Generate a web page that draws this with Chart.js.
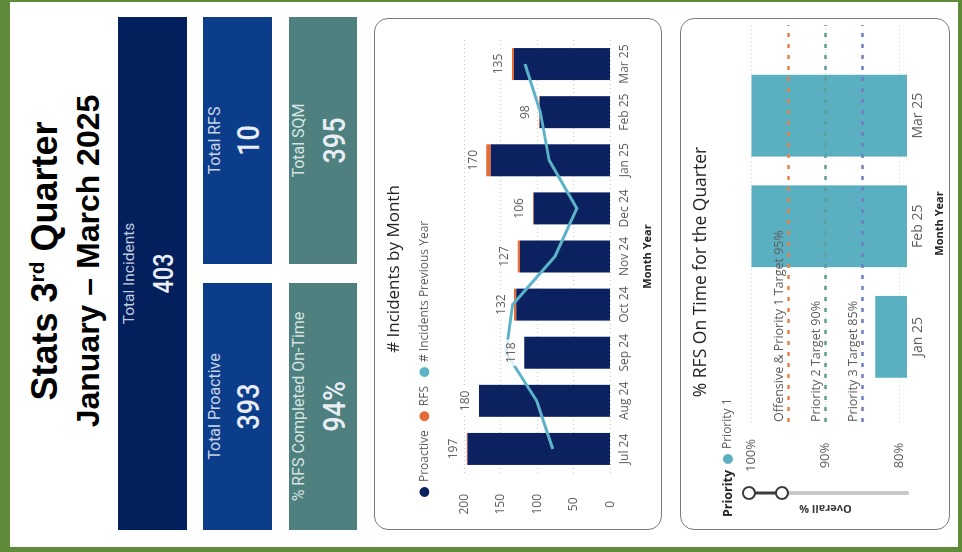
<!DOCTYPE html>
<html><head><meta charset="utf-8">
<script src="https://cdn.jsdelivr.net/npm/chart.js@4.4.1/dist/chart.umd.min.js"></script>
<style>
html,body{margin:0;padding:0;background:#fff;}
body{width:962px;height:552px;overflow:hidden;position:relative;}
#page{position:absolute;left:0;top:0;width:552px;height:962px;transform-origin:0 0;transform:translate(0,552px) rotate(-90deg);background:#fff;}
.frame{position:absolute;left:0;top:0;width:552px;height:962px;box-sizing:border-box;border-style:solid;border-color:#628a3b;border-width:10px 2px 4px 5px;}
.ttl{position:absolute;left:30px;width:522px;text-align:center;font-family:"Liberation Sans",Arial,sans-serif;font-weight:bold;color:#000;line-height:1;transform:translateY(-50%);white-space:nowrap;}
.ttl sup{font-size:58%;vertical-align:0.62em;line-height:0;}
.tile{position:absolute;}
.tile .t{position:absolute;left:0;right:0;text-align:center;line-height:1;white-space:nowrap;font-family:Roboto,"Liberation Sans",sans-serif;}
.tile .lab{transform:translateY(-50%);}
.tile .val{transform:translateY(-50%) scaleX(0.87);font-weight:500;}
.panel{position:absolute;box-sizing:border-box;border:1.5px solid #7a7a7a;border-radius:14px;}
canvas{position:absolute;}
</style></head><body>
<div id="page">
  <div class="frame"></div>
  <div class="ttl" style="top:45px;font-size:36px;">Stats 3<sup>rd</sup> Quarter</div>
  <div class="ttl" style="top:88px;font-size:32px;">January – March 2025</div>
  <div id="cards"></div>
  <div class="panel" style="left:22px;top:374px;width:512px;height:288px;"></div>
  <div class="panel" style="left:22px;top:680px;width:512px;height:270px;"></div>
  <canvas id="c1" width="508" height="284" style="left:24px;top:376px;width:508px;height:284px;"></canvas>
  <canvas id="c2" width="508" height="266" style="left:24px;top:682px;width:508px;height:266px;"></canvas>
</div>
<script>
// ---------- data ----------
const months = ['Jul 24','Aug 24','Sep 24','Oct 24','Nov 24','Dec 24','Jan 25','Feb 25','Mar 25'];
const proactive = [196,180,118,129,124,105,164,97,132];
const rfs = [1,0,0,3,3,1,6,1,3];
const prevYear = [79,101,143,134,76,46,84,96,117];
const countTicks = [0,50,100,150,200];
const quarterMonths = ['Jan 25','Feb 25','Mar 25'];
const onTimePct = [83.3,100,100];
const pctTicks = [80,90,100];
const targetLabels = ['Offensive & Priority 1 Target 95%','Priority 2 Target 90%','Priority 3 Target 85%'];
const targetValues = [95,90,85];
const cardLabels = ['Total Incidents','Total Proactive','Total RFS','% RFS Completed On-Time','Total SQM'];
const cardValues = ['403','393','10','94%','395'];

// ---------- styles ----------
const targetColors = ['#e8834e','#5c9f97','#6f7ec0'];
const cardBoxes = [
  {l:22,t:118,w:513,h:69,bg:'#03205c',lab:'#c3cde0',ly:12,vy:46,ls:15.5,vs:27},
  {l:22,t:203,w:247,h:69,bg:'#0c3d8a',lab:'#c9d4e8',ly:12,vy:45,ls:16,vs:31},
  {l:288,t:203,w:247,h:69,bg:'#0c3d8a',lab:'#c9d4e8',ly:12,vy:45,ls:16,vs:31},
  {l:22,t:289,w:247,h:68,bg:'#4e8080',lab:'#d6e4e2',ly:10,vy:45,ls:16,vs:31},
  {l:288,t:289,w:247,h:68,bg:'#4e8080',lab:'#d6e4e2',ly:10,vy:45,ls:16,vs:31}
];
const cards = document.getElementById('cards');
cardLabels.forEach((lab,i)=>{
  const b = cardBoxes[i];
  const d = document.createElement('div');
  d.className='tile';
  d.style.cssText=`left:${b.l}px;top:${b.t}px;width:${b.w}px;height:${b.h}px;background:${b.bg};`;
  const a = document.createElement('div'); a.className='t lab'; a.textContent=lab;
  a.style.cssText=`top:${b.ly}px;font-size:${b.ls}px;color:${b.lab};`;
  const v = document.createElement('div'); v.className='t val'; v.textContent=cardValues[i];
  v.style.cssText=`top:${b.vy}px;font-size:${b.vs}px;color:#e9eef5;`;
  d.appendChild(a); d.appendChild(v); cards.appendChild(d);
});

const FONT = '"Segoe UI","Open Sans",sans-serif';
Chart.defaults.font.family = FONT;
Chart.defaults.color = '#605e5c';

const shiftPlugin = {
  id:'shift',
  afterLayout(chart,args,o){
    if(o.title && chart.titleBlock){chart.titleBlock.left+=o.title; chart.titleBlock.right+=o.title;}
    if(chart.legend){chart.legend._origLeft = chart.legend.left;
      if(o.legend){chart.legend.left+=o.legend; chart.legend.right+=o.legend;}}
  },
  afterDraw(chart,args,o){
    if(o.legendTitle){
      const lg=chart.legend, ctx=chart.ctx;
      ctx.save(); ctx.font='bold 12.5px '+FONT; ctx.fillStyle='#252423';
      ctx.textBaseline='middle'; ctx.textAlign='left';
      ctx.fillText(o.legendTitle, lg._origLeft+4, lg.top + lg.options.labels.padding + 6);
      ctx.restore();
    }
  }
};

const totalsLabel = {
  id:'totalsLabel',
  afterDatasetsDraw(chart){
    const ctx=chart.ctx, top=chart.getDatasetMeta(1), y=chart.scales.y;
    ctx.save(); ctx.font='12px '+FONT; ctx.textAlign='center'; ctx.textBaseline='middle';
    months.forEach((m,i)=>{
      const total = proactive[i]+rfs[i];
      const px = top.data[i].x, py = y.getPixelForValue(total) - 13;
      const w = ctx.measureText(String(total)).width + 6;
      ctx.fillStyle='rgba(255,255,255,0.78)'; ctx.fillRect(px-w/2,py-8,w,16);
      ctx.fillStyle='#605e5c'; ctx.fillText(String(total),px,py);
    });
    ctx.restore();
  }
};

const noBorderLabels = (chart)=>Chart.defaults.plugins.legend.labels.generateLabels(chart).map(l=>Object.assign(l,{lineWidth:0,strokeStyle:l.fillStyle}));

new Chart(document.getElementById('c1'),{
  type:'bar',
  data:{labels:months,datasets:[
    {label:'Proactive',data:proactive,backgroundColor:'#0c2160',stack:'s',order:2,categoryPercentage:1,barPercentage:0.665},
    {label:'RFS',data:rfs,backgroundColor:'#e66c37',stack:'s',order:2,categoryPercentage:1,barPercentage:0.665},
    {type:'line',label:'# Incidents Previous Year',data:prevYear,borderColor:'#5cb3c8',backgroundColor:'#5cb3c8',borderWidth:3,pointRadius:0,tension:0,order:1}
  ]},
  options:{
    responsive:false,animation:false,
    layout:{padding:{top:4,left:12,right:20,bottom:0}},
    plugins:{
      title:{display:true,text:'# Incidents by Month',font:{size:17,weight:'normal'},color:'#252423',padding:{top:4,bottom:4}},
      legend:{position:'top',align:'start',labels:{usePointStyle:true,pointStyle:'circle',boxWidth:8,boxHeight:7,padding:10,font:{size:12},color:'#605e5c',sort:(a,b)=>a.datasetIndex-b.datasetIndex,generateLabels:noBorderLabels}},
      tooltip:{enabled:false},
      shift:{title:9,legend:10}
    },
    scales:{
      x:{stacked:true,offset:true,grid:{display:false,drawTicks:false},border:{display:false},
         ticks:{padding:7,font:{size:12},color:'#605e5c',autoSkip:false,maxRotation:0},
         title:{display:true,text:'Month Year',font:{size:11,weight:'bold'},color:'#252423',padding:{top:2,bottom:6}}},
      y:{stacked:true,min:0,max:233,
         afterBuildTicks(s){s.ticks=countTicks.map(v=>({value:v}));},
         afterFit(s){s.width=43;},
         ticks:{autoSkip:false,crossAlign:'center',padding:21,font:{size:12},color:'#605e5c'},
         grid:{color:'#c9c9c9',drawTicks:false},border:{display:false,dash:[1,3]}}
    }
  },
  plugins:[shiftPlugin,totalsLabel]
});

const targetLines = {
  id:'targetLines',
  afterDatasetsDraw(chart){
    const {ctx,chartArea:a,scales:{y}} = chart;
    ctx.save();
    targetValues.forEach((v,i)=>{
      const py = y.getPixelForValue(v);
      ctx.strokeStyle=targetColors[i]; ctx.lineWidth=2.5; ctx.setLineDash([4,7]);
      ctx.beginPath(); ctx.moveTo(a.left,py); ctx.lineTo(a.right,py); ctx.stroke();
      ctx.setLineDash([]); ctx.fillStyle='#605e5c'; ctx.font='12.5px '+FONT;
      ctx.textAlign='left'; ctx.textBaseline='bottom';
      ctx.fillText(targetLabels[i], a.left, py-3);
    });
    ctx.restore();
  }
};

const ySlider = {
  id:'ySlider',
  afterDraw(chart){
    const {ctx,chartArea:a} = chart;
    const x = a.left-71, y1=a.top+5, y2=a.top+38, y3=a.bottom;
    ctx.save(); ctx.lineCap='round';
    ctx.strokeStyle='#c8c8c8'; ctx.lineWidth=4;
    ctx.beginPath(); ctx.moveTo(x,y2); ctx.lineTo(x,y3); ctx.stroke();
    ctx.strokeStyle='#3c3c3c'; ctx.lineWidth=3;
    ctx.beginPath(); ctx.moveTo(x,y1); ctx.lineTo(x,y2); ctx.stroke();
    [y1,y2].forEach(yy=>{ctx.beginPath(); ctx.arc(x,yy,6,0,Math.PI*2); ctx.fillStyle='#fff'; ctx.fill(); ctx.lineWidth=2; ctx.strokeStyle='#3c3c3c'; ctx.stroke();});
    ctx.restore();
  }
};

new Chart(document.getElementById('c2'),{
  type:'bar',
  data:{datasets:[{label:'Priority 1',data:onTimePct.map((v,i)=>({x:i,y:v})),backgroundColor:'#5aafc0',barPercentage:0.74,categoryPercentage:1}]},
  options:{
    responsive:false,animation:false,
    layout:{padding:{top:4,left:7,right:5,bottom:0}},
    plugins:{
      title:{display:true,text:'% RFS On Time for the Quarter',font:{size:17.5,weight:'normal'},color:'#252423',padding:{top:5,bottom:4}},
      legend:{position:'top',align:'start',labels:{usePointStyle:true,pointStyle:'circle',boxWidth:8,boxHeight:7,padding:6,font:{size:12},color:'#605e5c',generateLabels:noBorderLabels}},
      tooltip:{enabled:false},
      shift:{title:1,legend:52,legendTitle:'Priority'}
    },
    scales:{
      x:{type:'linear',min:-0.77,max:2.82,offset:false,grid:{display:false,offset:false,drawTicks:false},border:{display:false},
         afterBuildTicks(s){s.ticks=quarterMonths.map((m,i)=>({value:i}));},
         ticks:{callback:(v)=>quarterMonths[v],padding:3,font:{size:14},color:'#605e5c',autoSkip:false,maxRotation:0},
         title:{display:true,text:'Month Year',font:{size:11,weight:'bold'},color:'#252423',padding:{top:3,bottom:2}}},
      y:{min:79,max:101,
         afterBuildTicks(s){s.ticks=pctTicks.map(v=>({value:v}));},
         afterFit(s){s.width=99;},
         ticks:{autoSkip:false,callback:(v)=>v+'%',crossAlign:'center',padding:17,font:{size:13},color:'#605e5c'},
         grid:{color:'#d4d4d4',drawTicks:false},border:{display:false,dash:[1,3]},
         title:{display:true,text:'Overall %',font:{size:11,weight:'bold'},color:'#3b3a39',padding:{top:6,bottom:0}}}
    }
  },
  plugins:[shiftPlugin,targetLines,ySlider]
});
</script>
</body></html>
